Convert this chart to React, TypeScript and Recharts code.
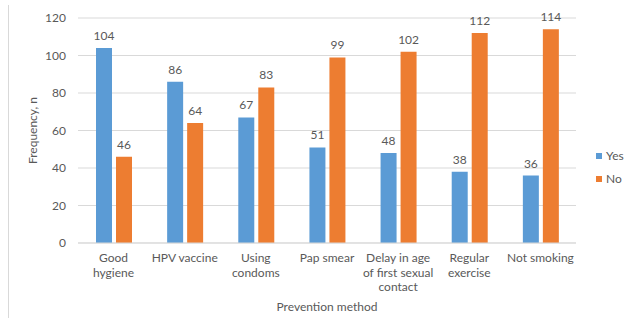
import { BarChart, Bar, XAxis, YAxis, CartesianGrid, Legend, LabelList } from "recharts";

const METHODS = [
  "Good\nhygiene",
  "HPV vaccine",
  "Using\ncondoms",
  "Pap smear",
  "Delay in age\nof first sexual\ncontact",
  "Regular\nexercise",
  "Not smoking",
];
const YES = [104, 86, 67, 51, 48, 38, 36];
const NO = [46, 64, 83, 99, 102, 112, 114];
const Y_TICKS = [0, 20, 40, 60, 80, 100, 120];
const SERIES = ["Yes", "No"];

const FONT = "Lato, 'Open Sans', sans-serif";
const TEXT = "#595959";

const rows = METHODS.map((m, i) => ({ method: m, Yes: YES[i], No: NO[i] }));

// multi-line category tick, lines split on \n like Excel's wrapping
function MethodTick(props: any) {
  const { x, y, payload } = props;
  const lines = String(payload.value).split("\n");
  return (
    <text x={x} y={y} textAnchor="middle" fill={TEXT} fontSize={12} fontFamily={FONT}>
      {lines.map((ln, i) => (
        <tspan key={i} x={x} dy={i === 0 ? 11 : 14.5}>
          {ln}
        </tspan>
      ))}
    </text>
  );
}

function LegendBox(props: any) {
  const items = [...(props.payload || [])].sort(
    (a: any, b: any) => SERIES.indexOf(a.value) - SERIES.indexOf(b.value),
  );
  return (
    <div style={{ fontFamily: FONT, fontSize: 12, color: TEXT }}>
      {items.map((it: any) => (
        <div key={it.value} style={{ display: "flex", alignItems: "center", height: 23 }}>
          <span style={{ display: "inline-block", width: 6, height: 6, background: it.color, marginRight: 4 }} />
          {it.value}
        </div>
      ))}
    </div>
  );
}

export default function App() {
  return (
    <div style={{ position: "absolute", left: 0, top: 0, width: 627, height: 318, background: "#fff" }}>
      <div style={{ position: "absolute", left: 8, top: 5, width: 1, height: 313, background: "#d9d9d9" }} />
      <BarChart
        width={627}
        height={318}
        data={rows}
        margin={{ top: 18, right: 11, left: 0, bottom: 0 }}
        barGap={4}
      >
        <CartesianGrid vertical={false} stroke="#d9d9d9" />
        <XAxis
          dataKey="method"
          axisLine={{ stroke: "#d9d9d9" }}
          tickLine={false}
          tick={<MethodTick />}
          interval={0}
          height={75}
          label={{
            value: "Prevention method",
            position: "insideBottom",
            offset: 7,
            fill: TEXT,
            fontSize: 12,
            fontFamily: FONT,
          }}
        />
        <YAxis
          domain={[0, 120]}
          ticks={Y_TICKS}
          width={78}
          axisLine={false}
          tickLine={false}
          tickSize={0}
          tickMargin={12}
          tick={{ fill: TEXT, fontSize: 12, fontFamily: FONT }}
          label={{
            value: "Frequency, n",
            angle: -90,
            position: "insideLeft",
            offset: 33,
            fill: TEXT,
            fontSize: 12,
            fontFamily: FONT,
            style: { textAnchor: "middle" },
          }}
        />
        <Legend
          layout="vertical"
          align="right"
          verticalAlign="middle"
          content={<LegendBox />}
          wrapperStyle={{ position: "absolute", left: 596, top: 144, width: 40 }}
        />
        <Bar dataKey="Yes" fill="#5B9BD5" barSize={16} isAnimationActive={false}>
          <LabelList dataKey="Yes" position="top" offset={8} fill={TEXT} fontSize={12} fontFamily={FONT} />
        </Bar>
        <Bar dataKey="No" fill="#ED7D31" barSize={16} isAnimationActive={false}>
          <LabelList dataKey="No" position="top" offset={8} fill={TEXT} fontSize={12} fontFamily={FONT} />
        </Bar>
      </BarChart>
    </div>
  );
}
